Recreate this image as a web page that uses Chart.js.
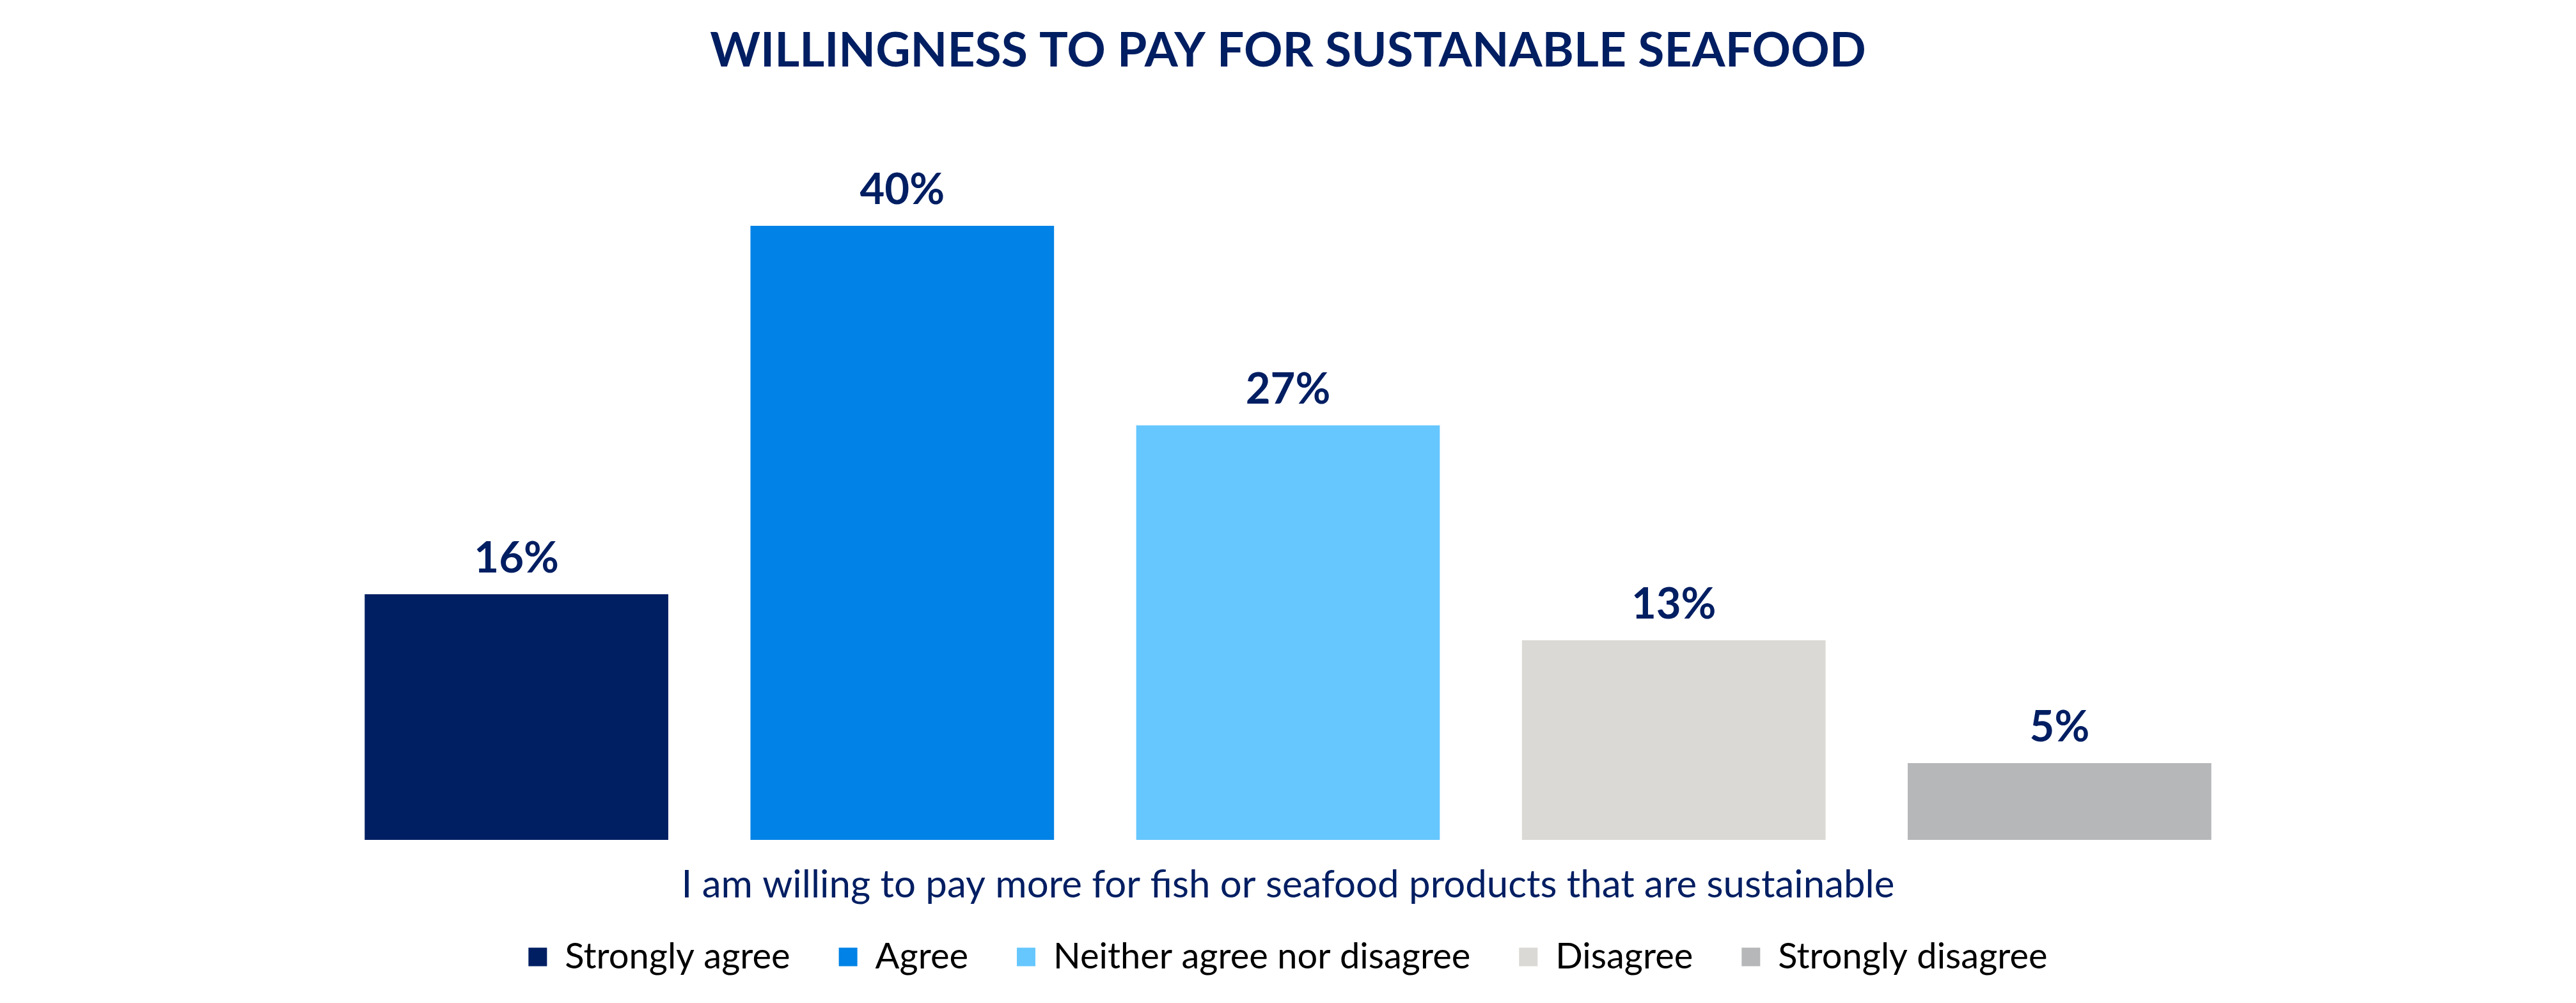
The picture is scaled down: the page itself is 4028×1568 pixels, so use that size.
<!DOCTYPE html>
<html>
<head>
<meta charset="utf-8">
<script src="https://cdn.jsdelivr.net/npm/chart.js@4"></script>
<style>
  html, body { margin: 0; padding: 0; background: #fff; }
  #wrap { width: 4028px; height: 1568px; }
</style>
</head>
<body>
<div id="wrap"><canvas id="payChart"></canvas></div>
<script>
const categories = ['Strongly agree', 'Agree', 'Neither agree nor disagree', 'Disagree', 'Strongly disagree'];
const shares = [16, 40, 27, 13, 5];
const barColors = ['#001F63', '#0082E6', '#66C7FF', '#DAD9D5', '#B6B7B9'];
const navy = '#001E62';

// draws the "16%" style labels above each bar
const valueLabels = {
    id: 'valueLabels',
    afterDatasetsDraw(chart) {
        const ctx = chart.ctx;
        const meta = chart.getDatasetMeta(0);
        ctx.save();
        ctx.font = 'bold 67px Lato';
        ctx.fillStyle = navy;
        ctx.textAlign = 'center';
        ctx.textBaseline = 'alphabetic';
        meta.data.forEach((bar, i) => {
            ctx.fillText(shares[i] + '%', bar.x, bar.y - 34);
        });
        ctx.restore();
    }
};

const ctx = document.getElementById('payChart').getContext('2d');
const payChart = new Chart(ctx, {
    type: 'bar',
    data: {
        labels: categories,
        datasets: [{
            data: shares,
            backgroundColor: barColors,
            borderWidth: 0,
            categoryPercentage: 1,
            barPercentage: 0.787
        }]
    },
    plugins: [valueLabels],
    options: {
        responsive: true,
        maintainAspectRatio: false,
        animation: false,
        layout: { padding: { left: 506, right: 506, top: 0, bottom: 34 } },
        scales: {
            x: {
                grid: { display: false },
                border: { display: false },
                ticks: { display: false },
                title: {
                    display: true,
                    text: 'I am willing to pay more for fish or seafood products that are sustainable',
                    color: navy,
                    font: { family: 'Lato', size: 60 },
                    padding: { top: 27, bottom: -28 }
                }
            },
            y: {
                display: false,
                min: 0,
                max: 45
            }
        },
        plugins: {
            title: {
                display: true,
                text: 'WILLINGNESS TO PAY FOR SUSTANABLE SEAFOOD',
                color: navy,
                font: { family: 'Lato', size: 75, weight: 'bold' },
                padding: { top: 35, bottom: 108 }
            },
            legend: {
                position: 'bottom',
                labels: {
                    boxWidth: 29,
                    boxHeight: 29,
                    padding: 76,
                    color: navy,
                    font: { family: 'Lato', size: 56 },
                    generateLabels: () => categories.map((c, i) => ({
                        text: c,
                        fillStyle: barColors[i],
                        strokeStyle: barColors[i],
                        lineWidth: 0,
                        hidden: false,
                        index: i
                    }))
                }
            },
            tooltip: { enabled: false }
        }
    }
});
</script>
</body>
</html>
